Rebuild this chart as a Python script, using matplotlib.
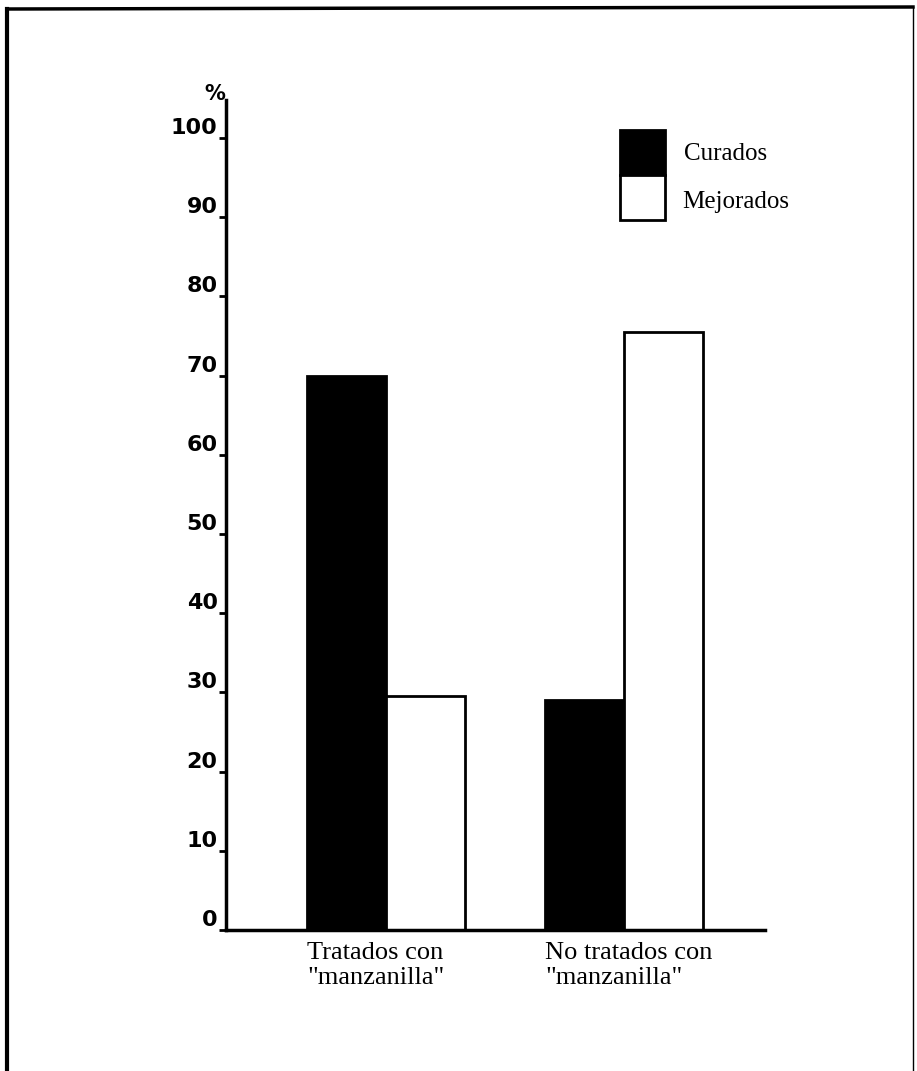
import matplotlib.pyplot as plt
from matplotlib.patches import Rectangle
from matplotlib.lines import Line2D
import numpy as np

# data
grupos = ['Tratados con\n"manzanilla"', 'No tratados con\n"manzanilla"']
curados = [70, 29]
mejorados = [29.5, 75.5]
series = ['Curados', 'Mejorados']
yticks = list(range(0, 101, 10))

W, H = 917, 1071
fig = plt.figure(figsize=(W / 100, H / 100), dpi=100)

# axes placed in pixel terms: y axis at x=226, x axis at y=930, top at y=100
ax = fig.add_axes([226 / W, (H - 930) / H, (765 - 226) / W, 830 / H])

x = np.arange(len(grupos))
w = 0.332
ax.bar(x - w, curados, w, align='edge', color='black', edgecolor='black', lw=2)
ax.bar(x, mejorados, w, align='edge', color='white', edgecolor='black', lw=2)

ax.set_xlim(-0.672, 1.592)
ax.set_ylim(0, 104.8)

for s in ['top', 'right']:
    ax.spines[s].set_visible(False)
ax.spines['left'].set_linewidth(2.5)
ax.spines['bottom'].set_linewidth(2.5)

ax.set_xticks([])
ax.set_yticks(yticks)
ax.set_yticklabels([str(t) for t in yticks], fontsize=16, fontweight='bold')
ax.tick_params(axis='y', length=5, width=2, pad=1)
for lab in ax.get_yticklabels():
    lab.set_va('bottom')

ax.text(-0.02, 0.995, '%', transform=ax.transAxes, fontsize=15, fontweight='bold',
        ha='center', va='bottom')

# category labels, left aligned with each group's first bar
for xi, g in zip(x, grupos):
    ax.text(xi - w, -0.015, g, transform=ax.get_xaxis_transform(), ha='left', va='top',
            fontsize=19, family='Liberation Serif', linespacing=1.15)

# legend boxes (pixel coords)
def fx(px):
    return px / W

def fy(py):
    return 1 - py / H

fig.patches.append(Rectangle((fx(620), fy(175)), 45 / W, 45 / H, transform=fig.transFigure,
                             facecolor='black', edgecolor='black', lw=2))
fig.patches.append(Rectangle((fx(620), fy(220)), 45 / W, 45 / H, transform=fig.transFigure,
                             facecolor='white', edgecolor='black', lw=2))
fig.text(fx(684), fy(154), series[0], fontsize=18, family='Liberation Serif', va='center')
fig.text(fx(682), fy(202), series[1], fontsize=18, family='Liberation Serif', va='center')

# page frame
fig.add_artist(Line2D([fx(7), fx(7)], [fy(9), 0], transform=fig.transFigure, color='black', lw=3))
fig.add_artist(Line2D([fx(7), fx(913)], [fy(9), fy(7)], transform=fig.transFigure, color='black', lw=2.5))
fig.add_artist(Line2D([fx(913), fx(913)], [fy(7), 0], transform=fig.transFigure, color='black', lw=1))

fig.savefig('out.png', dpi=100)
